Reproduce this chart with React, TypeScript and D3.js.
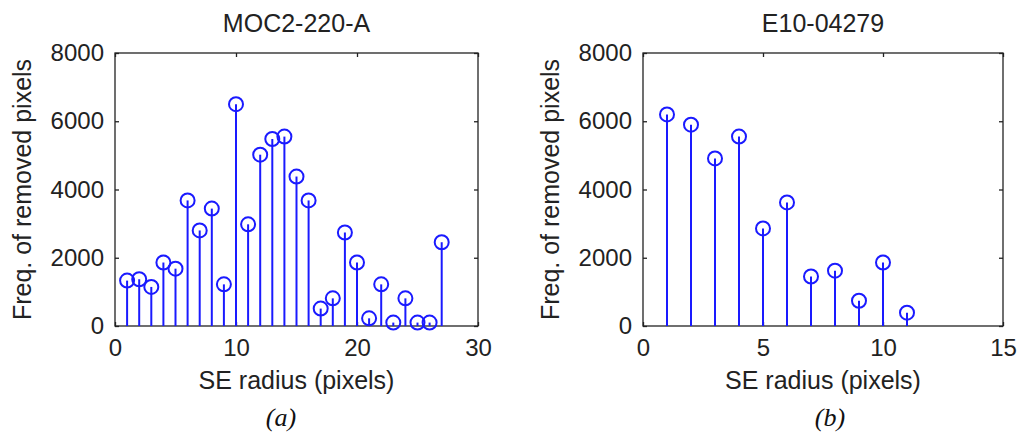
import React, { useEffect, useRef } from 'react';
import * as d3 from 'd3';

// stem data
const radiusA = [1, 2, 3, 4, 5, 6, 7, 8, 9, 10, 11, 12, 13, 14, 15, 16, 17, 18, 19, 20, 21, 22, 23, 24, 25, 26, 27];
const freqA = [1330, 1370, 1145, 1860, 1680, 3680, 2800, 3440, 1220, 6500, 2980, 5020, 5480, 5550, 4380, 3680, 510, 810, 2740, 1860, 225, 1220, 100, 810, 100, 100, 2455];

const radiusB = [1, 2, 3, 4, 5, 6, 7, 8, 9, 10, 11];
const freqB = [6200, 5900, 4910, 5550, 2860, 3620, 1450, 1620, 740, 1860, 390];

const yTicks = [0, 2000, 4000, 6000, 8000];
const xTicksA = [0, 10, 20, 30];
const xTicksB = [0, 5, 10, 15];

const titles = ['MOC2-220-A', 'E10-04279'];
const subLabels = ['(a)', '(b)'];
const xLabel = 'SE radius (pixels)';
const yLabel = 'Freq. of removed pixels';

const FONT = '"Liberation Sans", Arial, sans-serif';

function App() {
  const svgRef = useRef<SVGSVGElement>(null);

  useEffect(() => {
    if (!svgRef.current) return;
    const svg = d3.select(svgRef.current);
    svg.selectAll('*').remove();

    const top = 53;
    const bottom = 326;

    const panels = [
      { left: 115, right: 478, xMax: 30, xTicks: xTicksA, xs: radiusA, ys: freqA, title: titles[0], sub: subLabels[0], subX: 281 },
      { left: 643, right: 1003, xMax: 15, xTicks: xTicksB, xs: radiusB, ys: freqB, title: titles[1], sub: subLabels[1], subX: 830 },
    ];

    panels.forEach(p => {
      const x = d3.scaleLinear().domain([0, p.xMax]).range([p.left, p.right]);
      const y = d3.scaleLinear().domain([0, 8000]).range([bottom, top]);
      const g = svg.append('g');

      // box
      g.append('rect')
        .attr('x', p.left).attr('y', top)
        .attr('width', p.right - p.left).attr('height', bottom - top)
        .attr('fill', 'white').attr('stroke', '#222').attr('stroke-width', 1.3);

      // axes with inside ticks
      const xb = g.append('g').attr('transform', `translate(0,${bottom})`)
        .call(d3.axisBottom(x).tickValues(p.xTicks).tickSizeInner(-4).tickSizeOuter(0).tickPadding(13).tickFormat(d3.format('d')));
      const xt = g.append('g').attr('transform', `translate(0,${top})`)
        .call(d3.axisTop(x).tickValues(p.xTicks).tickSizeInner(-4).tickSizeOuter(0).tickFormat(() => ''));
      const yl = g.append('g').attr('transform', `translate(${p.left},0)`)
        .call(d3.axisLeft(y).tickValues(yTicks).tickSizeInner(-4).tickSizeOuter(0).tickPadding(11).tickFormat(d3.format('d')));
      const yr = g.append('g').attr('transform', `translate(${p.right},0)`)
        .call(d3.axisRight(y).tickValues(yTicks).tickSizeInner(-4).tickSizeOuter(0).tickFormat(() => ''));

      [xb, xt, yl, yr].forEach(a => {
        a.select('.domain').remove();
        a.selectAll('line').attr('stroke', '#222').attr('stroke-width', 1.3);
        a.selectAll('text').attr('font-family', FONT).attr('font-size', 24).attr('fill', '#222');
      });

      // stems
      const pts = p.xs.map((r, i) => ({ r, v: p.ys[i] }));
      g.selectAll('.stem').data(pts).enter().append('line')
        .attr('x1', d => x(d.r)).attr('x2', d => x(d.r))
        .attr('y1', y(0)).attr('y2', d => y(d.v))
        .attr('stroke', '#1a1aff').attr('stroke-width', 2);
      g.selectAll('.mark').data(pts).enter().append('circle')
        .attr('cx', d => x(d.r)).attr('cy', d => y(d.v)).attr('r', 7)
        .attr('fill', 'none').attr('stroke', '#1a1aff').attr('stroke-width', 2);

      // texts
      const cx = (p.left + p.right) / 2;
      g.append('text').attr('x', cx).attr('y', 32).attr('text-anchor', 'middle')
        .attr('font-family', FONT).attr('font-size', 25).attr('fill', '#222').text(p.title);
      g.append('text').attr('x', cx).attr('y', 389).attr('text-anchor', 'middle')
        .attr('font-family', FONT).attr('font-size', 25).attr('fill', '#222').text(xLabel);
      g.append('text')
        .attr('transform', `translate(${p.left - 84},${(top + bottom) / 2}) rotate(-90)`)
        .attr('text-anchor', 'middle')
        .attr('font-family', FONT).attr('font-size', 25).attr('fill', '#222').text(yLabel);
      g.append('text').attr('x', p.subX).attr('y', 426).attr('text-anchor', 'middle')
        .attr('font-family', '"Liberation Serif", "Times New Roman", serif').attr('font-style', 'italic')
        .attr('font-size', 26).attr('fill', '#111').text(p.sub);
    });
  }, []);

  return (
    <svg ref={svgRef} width={1018} height={432}
      style={{ position: 'absolute', left: 0, top: 0, background: 'white' }} />
  );
}

export default App;
